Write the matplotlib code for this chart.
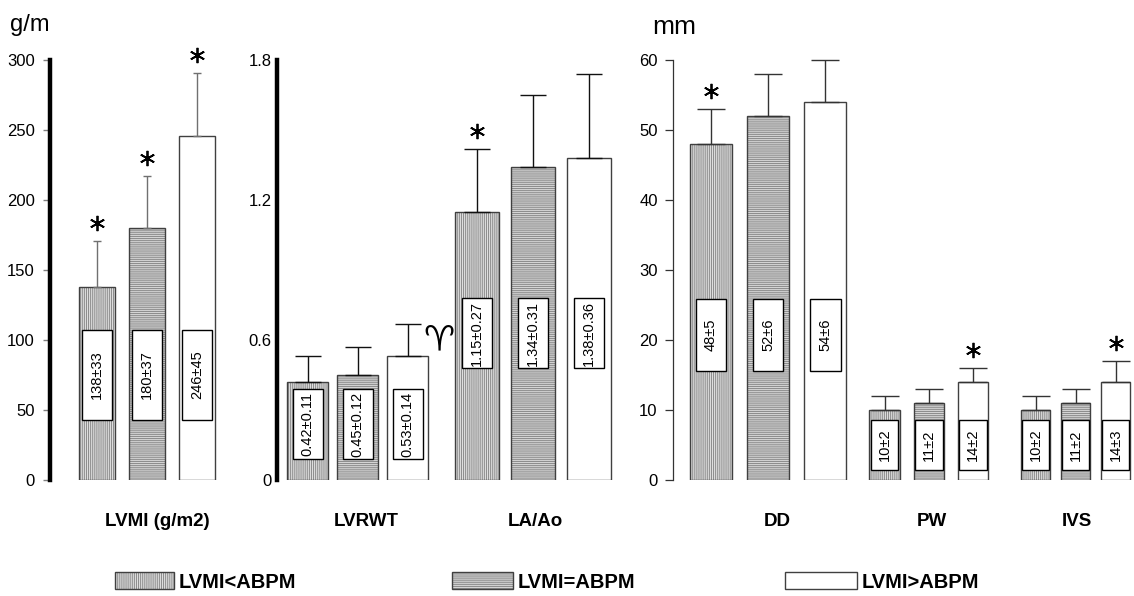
import matplotlib
matplotlib.use('Agg')
import matplotlib.pyplot as plt
from matplotlib.patches import Rectangle
from matplotlib.transforms import offset_copy

plt.rcParams['font.family'] = ['Liberation Sans', 'DejaVu Sans']
plt.rcParams['hatch.linewidth'] = 0.7

groups = ['LVMI<ABPM', 'LVMI=ABPM', 'LVMI>ABPM']

# mean and SD per group
lvmi_mean = [138, 180, 246]
lvmi_sd = [33, 37, 45]
lvrwt_mean = [0.42, 0.45, 0.53]
lvrwt_sd = [0.11, 0.12, 0.14]
laao_mean = [1.15, 1.34, 1.38]
laao_sd = [0.27, 0.31, 0.36]
dd_mean = [48, 52, 54]
dd_sd = [5, 6, 6]
pw_mean = [10, 11, 14]
pw_sd = [2, 2, 2]
ivs_mean = [10, 11, 14]
ivs_sd = [2, 2, 3]

# significance marks
lvmi_star = [True, True, True]
lvrwt_star = [False, False, False]
laao_star = [True, False, False]
dd_star = [True, False, False]
pw_star = [False, False, True]
ivs_star = [False, False, True]

# bar look for each group
faces = ['#dedede', '#d4d4d4', 'white']
hatches = ['|' * 8, '-' * 8, '']
hatch_col = '#8a8a8a'
edge_col = '#404040'


def draw_bars(ax, center, step, width, means, sds, stars, ecolor, capsize,
              box_lo, box_hi, box_w, star_dy=13):
    xs = [center + (i - 1) * step for i in range(len(means))]
    for i, (x, m) in enumerate(zip(xs, means)):
        ax.bar(x, m, width, color=faces[i], hatch=hatches[i],
               edgecolor=hatch_col, linewidth=0, zorder=1)
        ax.bar(x, m, width, fill=False, edgecolor=edge_col, linewidth=1, zorder=2)
    ax.errorbar(xs, means, yerr=[[0] * len(sds), sds], fmt='none', ecolor=ecolor,
                elinewidth=1, capsize=capsize, capthick=1, zorder=2, clip_on=False)
    star_trans = offset_copy(ax.transData, fig=ax.figure, x=0, y=star_dy, units='points')
    for x, m, s, st in zip(xs, means, sds, stars):
        ax.add_patch(Rectangle((x - box_w / 2, box_lo), box_w, box_hi - box_lo,
                               facecolor='white', edgecolor='black', linewidth=1, zorder=3))
        ax.text(x, (box_lo + box_hi) / 2, '{:g}±{:g}'.format(m, s), rotation=90,
                ha='center', va='center', fontsize=10.5, zorder=4)
        if st:
            ax.plot([x], [m + s], marker=(6, 2, 0), ms=11, mew=1.3, color='black',
                    transform=star_trans, clip_on=False)
    return xs


fig = plt.figure(figsize=(11.34, 5.96), dpi=100)
bottom = 116 / 596
height = 420 / 596

# left panel: LVMI
ax1 = fig.add_axes([50 / 1134, bottom, 180 / 1134, height])
draw_bars(ax1, 1, 1, 0.72, lvmi_mean, lvmi_sd, lvmi_star, '#707070', 2.9, 43, 107, 0.6)
ax1.set_xlim(-0.94, 2.66)
ax1.set_ylim(0, 300)
ax1.set_yticks(range(0, 301, 50))
ax1.set_xticks([1.2], ['LVMI (g/m2)'])

# middle panel: LVRWT and LA/Ao
ax2 = fig.add_axes([277 / 1134, bottom, 343 / 1134, height])
draw_bars(ax2, 1, 1, 0.82, lvrwt_mean, lvrwt_sd, lvrwt_star, '#111111', 9.4, 0.09, 0.39, 0.6)
draw_bars(ax2, 4.51, 1.125, 0.88, laao_mean, laao_sd, laao_star, '#111111', 9.4, 0.48, 0.78, 0.6)
ax2.text(2.62, 0.6, '♈', family='DejaVu Sans', fontsize=25, ha='center', va='center')
ax2.set_xlim(-0.61, 6.25)
ax2.set_ylim(0, 1.8)
ax2.set_yticks([0, 0.6, 1.2, 1.8], ['0', '0.6', '1.2', '1.8'])
ax2.set_xticks([1.18, 4.56], ['LVRWT', 'LA/Ao'])

# right panel: DD, PW, IVS
ax3 = fig.add_axes([673 / 1134, bottom, 461 / 1134, height])
draw_bars(ax3, 1.73, 1.04, 0.76, dd_mean, dd_sd, dd_star, '#333333', 10, 15.6, 25.8, 0.55)
draw_bars(ax3, 4.65, 0.805, 0.55, pw_mean, pw_sd, pw_star, '#333333', 10, 1.4, 8.6, 0.5)
draw_bars(ax3, 7.32, 0.727, 0.52, ivs_mean, ivs_sd, ivs_star, '#333333', 10, 1.4, 8.6, 0.5)
ax3.set_xlim(0, 8.38)
ax3.set_ylim(0, 60)
ax3.set_yticks(range(0, 61, 10))
ax3.set_xticks([1.89, 4.7, 7.34], ['DD', 'PW', 'IVS'])

for ax in (ax1, ax2, ax3):
    for side in ('top', 'right', 'bottom'):
        ax.spines[side].set_visible(False)
    ax.tick_params(axis='x', length=0, pad=24)
    for lab in ax.get_xticklabels():
        lab.set_fontweight('bold')
        lab.set_fontsize(13.5)

ax1.spines['left'].set_linewidth(3.2)
ax1.spines['left'].set_color('black')
ax1.tick_params(axis='y', length=5, width=1, color='#808080', labelsize=12, pad=6)
ax2.spines['left'].set_linewidth(3.2)
ax2.spines['left'].set_color('black')
ax2.tick_params(axis='y', length=0, labelsize=12, pad=4)
ax3.spines['left'].set_linewidth(0.9)
ax3.spines['left'].set_color('#333333')
ax3.tick_params(axis='y', length=6, width=0.9, color='#333333', labelsize=12, pad=5)

fig.text(10 / 1134, 1 - 25 / 596, 'g/m', fontsize=17, va='center', ha='left')
fig.text(652 / 1134, 1 - 27 / 596, 'mm', fontsize=19, va='center', ha='left')

# legend along the bottom
leg_boxes = [(115, 59), (452, 61), (785, 72)]
for i, (x0, w) in enumerate(leg_boxes):
    rect = [x0 / 1134, 1 - 589 / 596, w / 1134, 17 / 596]
    fig.add_artist(Rectangle(rect[:2], rect[2], rect[3], transform=fig.transFigure,
                             facecolor=faces[i], hatch=hatches[i], edgecolor=hatch_col,
                             linewidth=0))
    fig.add_artist(Rectangle(rect[:2], rect[2], rect[3], transform=fig.transFigure,
                             fill=False, edgecolor=edge_col, linewidth=1))
    fig.text((x0 + w + 5) / 1134, 1 - 583 / 596, groups[i], fontsize=14.5,
             fontweight='bold', va='center', ha='left')

fig.savefig('out.png', dpi=100)
